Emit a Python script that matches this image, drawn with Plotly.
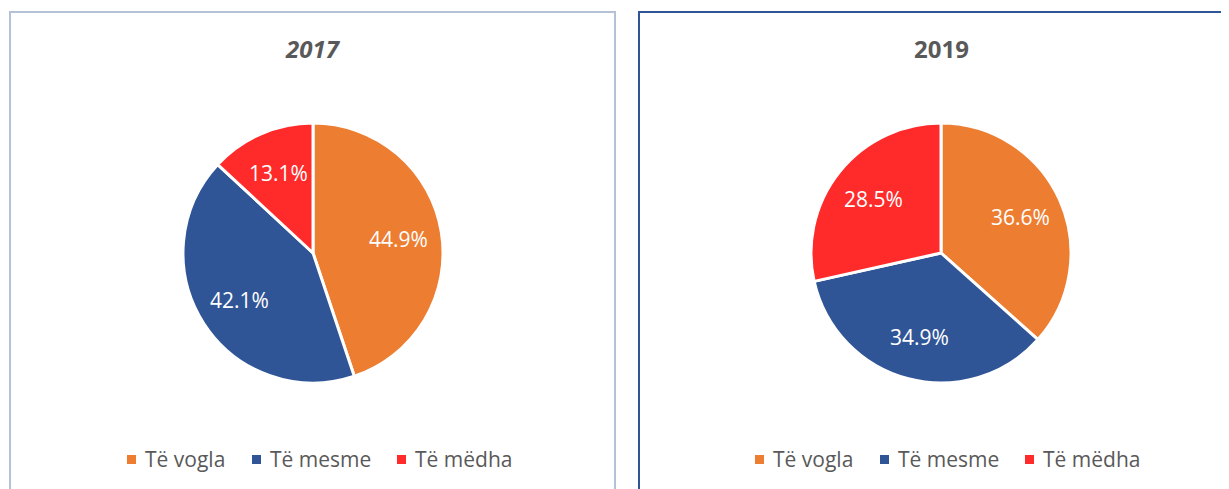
import math
import plotly.graph_objects as go

categories = ["Të vogla", "Të mesme", "Të mëdha"]
values_2017 = [44.9, 42.1, 13.1]
values_2019 = [36.6, 34.9, 28.5]
years = ["2017", "2019"]
colors = ["#ED7D31", "#2F5597", "#FF2A2A"]

# page offset (browser body margin) compensation
OFF = 8
W, H = 1229 - OFF, 489 - OFF


def px(x):
    return (x - OFF) / W


def py(y):
    return 1 - (y - OFF) / H


FONT = "Open Sans"
TXT = "#595959"

fig = go.Figure()

panels = [
    dict(vals=values_2017, cx=313, cy=253, r=130, title="<b><i>%s</i></b>" % years[0]),
    dict(vals=values_2019, cx=941, cy=253, r=130, title="<b>%s</b>" % years[1]),
]

annotations = []
for p in panels:
    fig.add_trace(go.Pie(
        labels=categories,
        values=p["vals"],
        sort=False,
        direction="clockwise",
        rotation=0,
        marker=dict(colors=colors, line=dict(color="white", width=3)),
        textinfo="none",
        domain=dict(x=[px(p["cx"] - p["r"]), px(p["cx"] + p["r"])],
                    y=[py(p["cy"] + p["r"]), py(p["cy"] - p["r"])]),
        showlegend=False,
        hoverinfo="label+percent",
    ))
    # data labels placed along each slice's bisector
    total = sum(p["vals"])
    cum = 0.0
    for v in p["vals"]:
        mid = (cum + v / 2) / total * 2 * math.pi
        cum += v
        d = 0.67 * p["r"]
        lx = p["cx"] + d * math.sin(mid)
        ly = p["cy"] - d * math.cos(mid)
        annotations.append(dict(
            text="%.1f%%" % v, xref="paper", yref="paper",
            x=px(lx), y=py(ly), xanchor="center", yanchor="middle",
            showarrow=False, font=dict(family=FONT, size=21, color="white")))

shapes = [
    dict(type="rect", xref="paper", yref="paper",
         x0=px(10), x1=px(615), y0=py(500), y1=py(12),
         line=dict(color="#B4C2D8", width=2), fillcolor="rgba(0,0,0,0)"),
    dict(type="rect", xref="paper", yref="paper",
         x0=px(639), x1=px(1260), y0=py(500), y1=py(12),
         line=dict(color="#2F5597", width=2), fillcolor="rgba(0,0,0,0)"),
]

for p in panels:
    annotations.append(dict(
        text=p["title"], xref="paper", yref="paper",
        x=px(p["cx"]), y=py(49), xanchor="center", yanchor="middle",
        showarrow=False, font=dict(family=FONT, size=24, color=TXT)))

# manual legends (one under each pie)
legend_x = [127, 252, 397]
for offset in [0, 628]:
    for lx, cat, col in zip(legend_x, categories, colors):
        x0 = lx + offset
        shapes.append(dict(type="rect", xref="paper", yref="paper",
                           x0=px(x0), x1=px(x0 + 9), y0=py(464), y1=py(455),
                           line=dict(width=0), fillcolor=col))
        annotations.append(dict(
            text=cat, xref="paper", yref="paper",
            x=px(x0 + 16), y=py(459), xanchor="left", yanchor="middle",
            showarrow=False, font=dict(family=FONT, size=21, color=TXT)))

fig.update_layout(
    width=W, height=H,
    margin=dict(l=0, r=0, t=0, b=0),
    paper_bgcolor="white",
    plot_bgcolor="white",
    shapes=shapes,
    annotations=annotations,
)

fig.write_html("out.html")
